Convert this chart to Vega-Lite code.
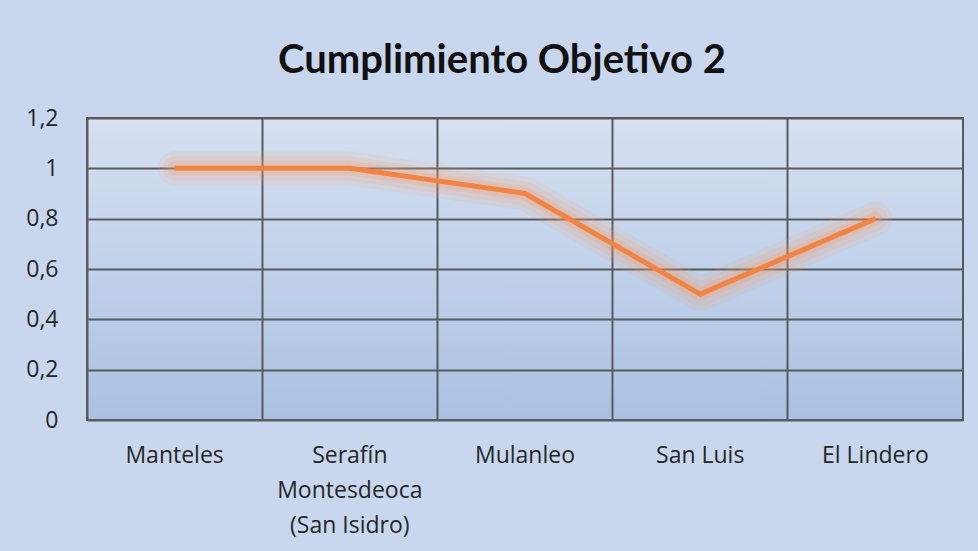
{
  "$schema": "https://vega.github.io/schema/vega-lite/v6.json",
  "width": 876,
  "height": 302,
  "autosize": "none",
  "padding": {"left": 87, "top": 118, "right": 15, "bottom": 131},
  "background": "#c8d7ed",
  "config": {
    "locale": {"number": {"decimal": ",", "thousands": ".", "grouping": [3], "currency": ["", " €"]}},
    "view": {
      "stroke": "#5a5a5a",
      "strokeWidth": 2,
      "fill": {
        "gradient": "linear",
        "x1": 0, "y1": 0, "x2": 0, "y2": 1,
        "stops": [
          {"offset": 0, "color": "#d6e1f1"},
          {"offset": 1, "color": "#aac1e2"}
        ]
      }
    },
    "font": "Open Sans"
  },
  "title": {
    "text": "Cumplimiento Objetivo 2",
    "font": "Lato",
    "fontSize": 40,
    "fontWeight": "bold",
    "color": "#111111",
    "anchor": "middle",
    "frame": "group",
    "dx": -23,
    "offset": 26
  },
  "data": {
    "values": [
      {"sitio": "Manteles", "valor": 1},
      {"sitio": "Serafín Montesdeoca (San Isidro)", "valor": 1},
      {"sitio": "Mulanleo", "valor": 0.9},
      {"sitio": "San Luis", "valor": 0.5},
      {"sitio": "El Lindero", "valor": 0.8}
    ]
  },
  "encoding": {
    "x": {
      "field": "sitio",
      "type": "nominal",
      "sort": null,
      "bandPosition": 0.5,
      "scale": {"type": "band", "paddingInner": 0, "paddingOuter": 0},
      "axis": {
        "title": null,
        "labelAngle": 0,
        "labelExpr": "datum.value == 'Serafín Montesdeoca (San Isidro)' ? ['Serafín', 'Montesdeoca', '(San Isidro)'] : datum.value",
        "labelFont": "Open Sans",
        "labelFontSize": 23,
        "labelColor": "#262626",
        "labelPadding": 24,
        "labelLineHeight": 35,
        "labelBaseline": "top",
        "ticks": false,
        "domain": false,
        "grid": true,
        "gridColor": "#5a5a5a",
        "gridWidth": 2,
        "gridOpacity": 1,
        "bandPosition": 0
      }
    },
    "y": {
      "field": "valor",
      "type": "quantitative",
      "scale": {"domain": [0, 1.2]},
      "axis": {
        "title": null,
        "values": [0, 0.2, 0.4, 0.6, 0.8, 1, 1.2],
        "format": ".1~f",
        "labelFont": "Open Sans",
        "labelFontSize": 23,
        "labelColor": "#262626",
        "labelPadding": 29,
        "ticks": false,
        "domain": false,
        "grid": true,
        "gridColor": "#5a5a5a",
        "gridWidth": 2,
        "gridOpacity": 1
      }
    }
  },
  "layer": [
    {"mark": {"type": "line", "color": "#f7a56f", "strokeWidth": 34, "opacity": 0.12, "strokeJoin": "round", "strokeCap": "round"}},
    {"mark": {"type": "line", "color": "#f7a16b", "strokeWidth": 24, "opacity": 0.15, "strokeJoin": "round", "strokeCap": "round"}},
    {"mark": {"type": "line", "color": "#f59a62", "strokeWidth": 14, "opacity": 0.2, "strokeJoin": "round", "strokeCap": "round"}},
    {"mark": {"type": "line", "color": "#f5823f", "strokeWidth": 5, "strokeJoin": "round", "strokeCap": "butt"}}
  ]
}
